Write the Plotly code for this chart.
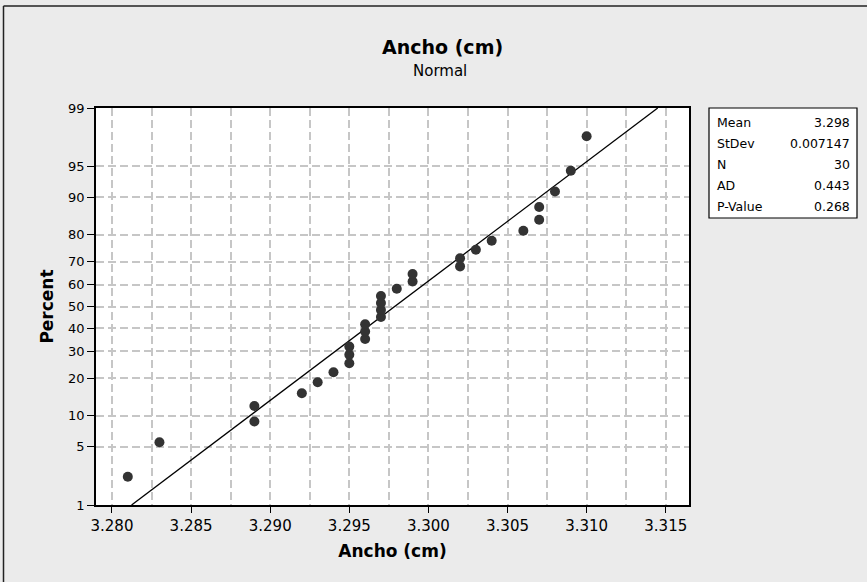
import numpy as np
import plotly.graph_objects as go
from statistics import NormalDist

# ---- data ----
ancho = [3.281, 3.283, 3.289, 3.289, 3.292, 3.293, 3.294, 3.295, 3.295, 3.295,
         3.296, 3.296, 3.296, 3.297, 3.297, 3.297, 3.297, 3.298, 3.299, 3.299,
         3.302, 3.302, 3.303, 3.304, 3.306, 3.307, 3.307, 3.308, 3.309, 3.310]
percent = [2.30, 5.59, 8.88, 12.17, 15.46, 18.75, 22.04, 25.33, 28.62, 31.91,
           35.20, 38.49, 41.78, 45.07, 48.36, 51.64, 54.93, 58.22, 61.51, 64.80,
           68.09, 71.38, 74.67, 77.96, 81.25, 84.54, 87.83, 91.12, 94.41, 97.70]
y_ticks = [1, 5, 10, 20, 30, 40, 50, 60, 70, 80, 90, 95, 99]
x_ticks = [3.280, 3.285, 3.290, 3.295, 3.300, 3.305, 3.310, 3.315]
stat_labels = ["Mean", "StDev", "N", "AD", "P-Value"]
stat_values = ["3.298", "0.007147", "30", "0.443", "0.268"]

nd = NormalDist()
z = lambda p: nd.inv_cdf(p / 100.0)

mean = float(np.mean(ancho))
sd = float(np.std(ancho, ddof=1))
z_lo, z_hi = z(1), z(99)

FONT = "DejaVu Sans"
DARK = "#333333"
GRID = "#c6c6c6"

fig = go.Figure()
fig.add_trace(go.Scatter(
    x=[mean + sd * z_lo, mean + sd * z_hi], y=[z_lo, z_hi], mode="lines",
    line=dict(color="black", width=1.3), hoverinfo="skip", showlegend=False))
fig.add_trace(go.Scatter(
    x=ancho, y=[z(p) for p in percent], mode="markers",
    marker=dict(color=DARK, size=10), showlegend=False))

# plot area in pixels
W, H = 867, 582
L, R, T, B = 96, 689, 108, 505
pw, ph = R - L, B - T
px = lambda x: (x - L) / pw
py = lambda y: (B - y) / ph

fig.update_layout(
    width=W, height=H,
    margin=dict(l=L, r=W - R, t=T, b=H - B, pad=0),
    paper_bgcolor="#ebebeb", plot_bgcolor="white",
    font=dict(family=FONT, color="black", size=12),
    showlegend=False,
)
fig.update_xaxes(
    range=[3.27899, 3.31647], tickvals=x_ticks,
    ticktext=[f"{v:.3f}" for v in x_ticks],
    tickfont=dict(size=15), ticks="outside", ticklen=6, tickcolor="black",
    showline=True, linecolor="black", linewidth=1.5, mirror=True,
    showgrid=True, gridcolor=GRID, griddash="8px,4px", gridwidth=1.5,
    minor=dict(dtick=0.0025, tick0=3.2775, showgrid=True, gridcolor=GRID,
               griddash="8px,4px", gridwidth=1.5),
    zeroline=False,
    title=dict(text="<b>Ancho (cm)</b>", font=dict(size=17), standoff=11),
)
fig.update_yaxes(
    range=[z_lo, z_hi], tickvals=[z(p) for p in y_ticks],
    ticktext=[str(p) for p in y_ticks],
    tickfont=dict(size=13), ticks="outside", ticklen=7, tickcolor="black",
    showline=True, linecolor="black", linewidth=1.5, mirror=True,
    showgrid=True, gridcolor=GRID, griddash="8px,4px", gridwidth=1.5,
    zeroline=False,
    title=dict(text="<b>Percent</b>", font=dict(size=17), standoff=10),
)

shapes = [
    # outer frame (top and left edges visible)
    dict(type="line", xref="paper", yref="paper", x0=px(3.5), x1=px(W + 5),
         y0=py(6), y1=py(6), line=dict(color="#222222", width=1.5)),
    dict(type="line", xref="paper", yref="paper", x0=px(3.5), x1=px(3.5),
         y0=py(6), y1=py(H + 5), line=dict(color="#222222", width=1.5)),
    # stats box
    dict(type="rect", xref="paper", yref="paper", x0=px(709), x1=px(857),
         y0=py(218), y1=py(108), fillcolor="white",
         line=dict(color="black", width=1.2)),
]
annotations = [
    dict(text="<b>Ancho (cm)</b>", x=px(443), y=py(47), xref="paper", yref="paper",
         showarrow=False, font=dict(size=19, family=FONT), xanchor="center", yanchor="middle"),
    dict(text="Normal", x=px(440), y=py(71), xref="paper", yref="paper",
         showarrow=False, font=dict(size=15, family=FONT), xanchor="center", yanchor="middle"),
]
for i, (lab, val) in enumerate(zip(stat_labels, stat_values)):
    yy = py(122 + i * 21.2)
    annotations.append(dict(text=lab, x=px(715), y=yy, xref="paper", yref="paper",
                            showarrow=False, xanchor="left", yanchor="middle",
                            font=dict(size=12.5, family=FONT)))
    annotations.append(dict(text=val, x=px(852), y=yy, xref="paper", yref="paper",
                            showarrow=False, xanchor="right", yanchor="middle",
                            font=dict(size=12.5, family=FONT)))
fig.update_layout(shapes=shapes, annotations=annotations)

fig.write_html("out.html", config={"displayModeBar": False},
               post_script="document.body.style.margin='0px';")
